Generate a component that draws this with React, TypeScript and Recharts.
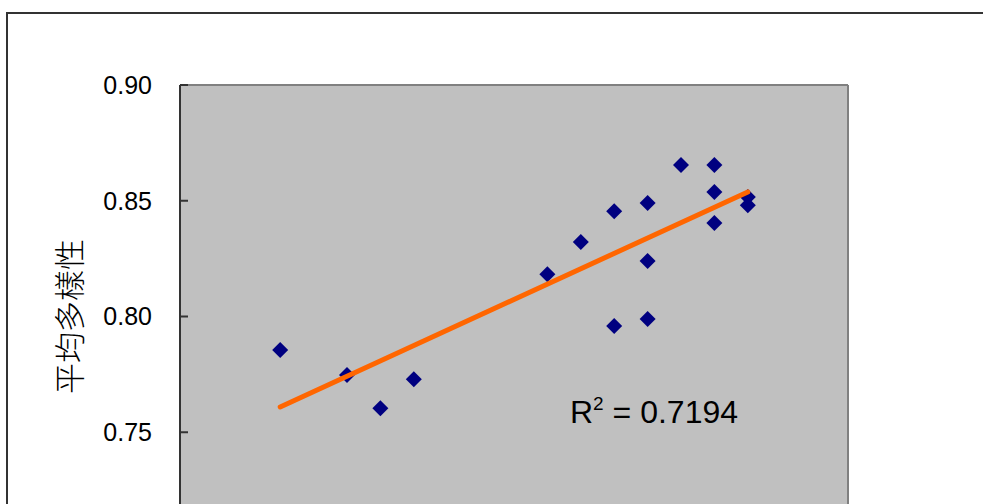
import React from "react";
import {
  ScatterChart,
  Scatter,
  XAxis,
  YAxis,
  CartesianGrid,
  ReferenceLine,
  Customized,
} from "recharts";

// x positions (evenly spaced periods) and average diversity values
const periodX = [3, 5, 6, 7, 11, 12, 13, 13, 14, 14, 14, 15, 16, 16, 16, 17, 17];
const diversity = [
  0.7855, 0.7747, 0.7604, 0.7729, 0.8183, 0.8322, 0.8455, 0.7959, 0.849,
  0.824, 0.7989, 0.8654, 0.8654, 0.8538, 0.8404, 0.8516, 0.8481,
];
const trendX = [3, 17];
const trendY = [0.7609, 0.8538];
const yTicks = [0.75, 0.8, 0.85, 0.9];
const yDomain = [0.7, 0.9];
const xDomain = [0, 20];
const rSquared = "0.7194";

const points = periodX.map((x, i) => ({ x, y: diversity[i] }));
const trend = trendX.map((x, i) => ({ x, y: trendY[i] }));

const FONT = "'Liberation Sans', Arial, sans-serif";

const Diamond = (props: any) => {
  const { cx, cy } = props;
  const r = 8;
  return (
    <polygon
      points={`${cx},${cy - r} ${cx + r},${cy} ${cx},${cy + r} ${cx - r},${cy}`}
      fill="#000080"
    />
  );
};

// label plus a short tick pointing into the plot area
const YTick = (props: any) => {
  const { x, y, payload } = props;
  const axisX = x + 28;
  return (
    <g>
      <line x1={axisX} x2={axisX + 8} y1={y} y2={y} stroke="#333" strokeWidth={2} />
      <text
        x={x}
        y={y}
        dy="0.355em"
        textAnchor="end"
        fontFamily={FONT}
        fontSize={25}
        fill="#000">
        {Number(payload.value).toFixed(2)}
      </text>
    </g>
  );
};

const RLabel = () => (
  <text x={570} y={423} fontFamily={FONT} fontSize={32} fill="#000">
    R
    <tspan dy={-13} fontSize={19}>
      2
    </tspan>
    <tspan dy={13}> = {rSquared}</tspan>
  </text>
);

export default function App() {
  return (
    <div style={{ position: "absolute", left: 0, top: 0, width: 983, height: 504, overflow: "hidden" }}>
      <div
        style={{
          position: "absolute",
          left: 6,
          top: 12,
          width: 1000,
          height: 700,
          border: "2px solid #333",
          boxSizing: "border-box",
        }}
      />
      <div style={{ position: "absolute", left: 0, top: 0 }}>
        <ScatterChart
          width={983}
          height={620}
          margin={{ top: 85, right: 135, bottom: 72, left: 0 }}>
          <CartesianGrid horizontal={false} vertical={false} fill="#C0C0C0" />
          <XAxis type="number" dataKey="x" domain={xDomain} hide />
          <YAxis
            type="number"
            dataKey="y"
            domain={yDomain}
            ticks={yTicks}
            width={180}
            tickLine={false}
            tickSize={0}
            tickMargin={28}
            tick={<YTick />}
            axisLine={{ stroke: "#333", strokeWidth: 2 }}
            label={{
              content: (p: any) => {
                const vb = p.viewBox;
                const cy = vb.y + vb.height / 2;
                return (
                  <text
                    x={67}
                    y={cy}
                    transform={`rotate(-90 67 ${cy})`}
                    textAnchor="middle"
                    dominantBaseline="central"
                    fontFamily="'Noto Sans CJK TC', sans-serif"
                    fontSize={31}
                    fontWeight={300}
                    fill="#000">
                    平均多樣性
                  </text>
                );
              },
            }}
          />
          <ReferenceLine y={yDomain[1]} stroke="#808080" strokeWidth={2} />
          <ReferenceLine x={xDomain[1]} stroke="#808080" strokeWidth={2} />
          <Scatter data={points} shape={<Diamond />} isAnimationActive={false} />
          <Scatter
            data={trend}
            line={{ stroke: "#FF6600", strokeWidth: 5, strokeLinecap: "round" }}
            shape={() => <g />}
            isAnimationActive={false}
          />
          <Customized component={RLabel} />
        </ScatterChart>
      </div>
    </div>
  );
}
